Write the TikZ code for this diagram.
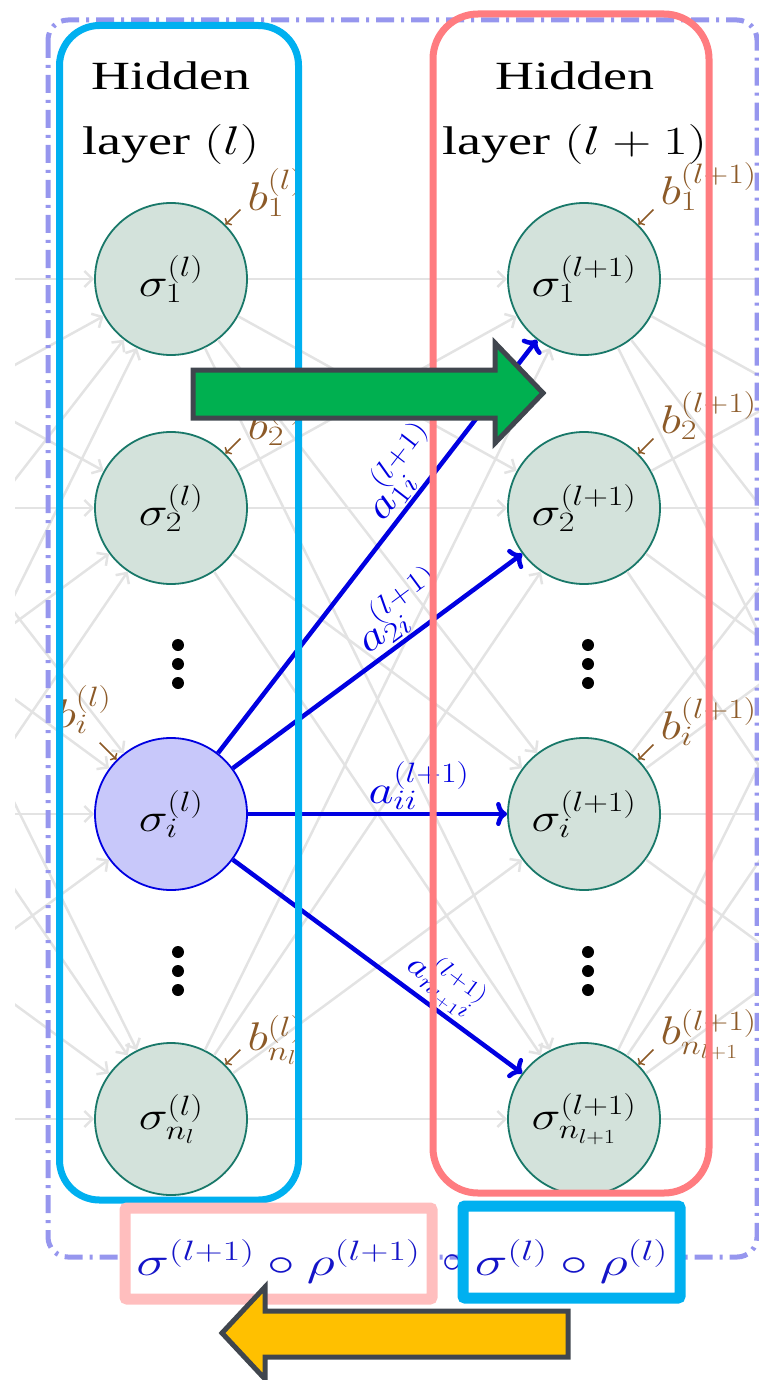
\RequirePackage{fix-cm}
\documentclass[tikz,border=0pt]{standalone}
\usepackage[no-math]{fontspec}
\setmainfont{Liberation Serif}
\usetikzlibrary{arrows.meta,calc}
\DeclareMathSizes{40}{40}{28}{20}
\DeclareMathSizes{32}{32}{23}{16}
\definecolor{framecyan}{RGB}{0,176,240}
\definecolor{framered}{RGB}{255,124,128}
\definecolor{framepink}{RGB}{255,190,190}
\definecolor{outerblue}{RGB}{150,150,238}
\definecolor{nodefill}{RGB}{211,226,219}
\definecolor{nodeline}{RGB}{25,120,105}
\definecolor{actfill}{RGB}{200,200,250}
\definecolor{biasbrown}{RGB}{140,90,40}
\definecolor{wblue}{RGB}{0,0,225}
\definecolor{formblue}{RGB}{20,20,200}
\definecolor{arrgreen}{RGB}{0,176,80}
\definecolor{arrorange}{RGB}{255,192,0}
\definecolor{arredge}{RGB}{64,70,78}
\newcommand{\wtx}[2][1.22]{\scalebox{#1}[1]{#2}}
\begin{document}
\begin{tikzpicture}[x=1pt,y=-1pt,
  neuron/.style={circle,draw=nodeline,fill=nodefill,line width=1.8pt,minimum size=152pt,inner sep=0pt,font=\fontsize{40}{48}\selectfont},
  faint/.style={gray!22,line width=2.5pt,-{Straight Barb[length=8pt,width=16pt]}},
  wire/.style={wblue,line width=4.5pt,-{To[length=11pt,width=24pt]}},
  wlab/.style={text=wblue,inner sep=2pt,font=\fontsize{40}{48}\selectfont},
  bias/.style={text=biasbrown,inner sep=0pt,font=\fontsize{40}{48}\selectfont},
  biasarr/.style={biasbrown,line width=1.5pt,-{To[length=5pt,width=10pt]}},
  frame/.style={line width=7pt,rounded corners=40pt},
  title/.style={align=center,inner sep=0pt,font=\fontsize{40}{65}\selectfont},
  formbox/.style={draw,fill=white,line width=11pt,rounded corners=2pt,inner sep=0pt,text=formblue,font=\fontsize{40}{48}\selectfont},
  blockarr/.style={draw=arredge,line width=5pt,line join=miter}]
\useasboundingbox (0,0) rectangle (759,1380);
\foreach \n/\y in {1/279,2/508,i/814,n/1119}{
  \coordinate (P\n) at (-245,\y);
  \coordinate (F\n) at (999,\y);
}
\foreach \n/\y/\s in {1/279/1,2/508/2,n/1119/{n_l}}{
  \node[neuron] (L\n) at (171,\y) {\wtx{$\sigma_{\s}^{(l)}$}};
}
\node[neuron,draw=wblue,fill=actfill] (Li) at (171,814) {\wtx{$\sigma_i^{(l)}$}};
\foreach \n/\y/\s in {1/279/1,2/508/2,i/814/i,n/1119/{n_{l+1}}}{
  \node[neuron] (R\n) at (584,\y) {\wtx{$\sigma_{\s}^{(l+1)}$}};
}
\begin{scope}
\clip (15,0) rectangle (759,1380);
\foreach \a in {1,2,i,n}{
  \foreach \b in {1,2,i,n}{
    \draw[faint] (P\a) -- (L\b);
    \draw[faint] (L\a) -- (R\b);
    \draw[faint] (R\a) -- (F\b);
  }}
\end{scope}
\foreach \x in {178,588}{\foreach \y in {645,664,683,952,971,990}{\fill (\x,\y) circle (6pt);}}
\foreach \n/\p/\lab in {1/.64/{a_{1i}^{(l+1)}},2/.63/{a_{2i}^{(l+1)}},i/.66/{a_{ii}^{(l+1)}}}{
  \draw[wire] (Li) -- node[wlab,pos=\p,above,sloped]{\wtx{$\lab$}} (R\n);
}
\draw[wire] (Li) -- node[wlab,pos=.68,above,sloped,font=\fontsize{32}{38}\selectfont]{\wtx{$a_{n_{l+1}i}^{(l+1)}$}} (Rn);
\begin{scope}
\clip (59,0) rectangle (298,1380);
\foreach \n/\s in {1/1,2/2,n/{n_l}}{
  \coordinate (cL\n) at ($(L\n.45)+(15,-15)$);
  \draw[biasarr] (cL\n) -- (L\n.45);
  \node[bias,anchor=base west] (bL\n) at ($(L\n.45)+(22,-14)$) {\wtx{$b_{\s}^{(l)}$}};
}
\coordinate (cLi) at ($(Li.135)+(-17,-17)$);
\draw[biasarr] (cLi) -- (Li.135);
\node[bias,anchor=base east] (bLi) at ($(Li.135)+(-5,-32)$) {\wtx{$b_i^{(l)}$}};
\end{scope}
\foreach \n/\s in {1/1,2/2,i/i,n/{n_{l+1}}}{
  \coordinate (cR\n) at ($(R\n.45)+(15,-15)$);
  \draw[biasarr] (cR\n) -- (R\n.45);
  \node[bias,anchor=base west] (bR\n) at ($(R\n.45)+(22,-20)$) {\wtx{$b_{\s}^{(l+1)}$}};
}
\node[title,anchor=north] (tL) at (171,62) {\wtx[1.35]{Hidden}\\\wtx[1.35]{layer $(l)$}};
\node[title,anchor=north] (tR) at (575,62) {\wtx[1.35]{Hidden}\\\wtx[1.35]{layer $(l+1)$}};
\draw[outerblue,line width=5pt,rounded corners=20pt,dash pattern=on 18pt off 7pt on 3pt off 7pt] (48,20) rectangle (757,1257);
\draw[frame,draw=framecyan] (59.5,25.5) rectangle (298.5,1200);
\draw[frame,draw=framered,rounded corners=45pt] (433,14) rectangle (709,1193);
\node[formbox,draw=framepink,minimum width=307pt,minimum height=91pt,text height=50pt,text depth=7pt] (fL) at (278.5,1253.5) {\wtx[1.38]{$\sigma^{(l+1)}\circ\rho^{(l+1)}$}};
\node[text=formblue,inner sep=0pt,font=\fontsize{40}{48}\selectfont] (comp) at (452,1264) {$\circ$};
\node[formbox,draw=framecyan,minimum width=217pt,minimum height=92pt,text height=52pt,text depth=6pt] (fR) at (571.5,1252) {\wtx[1.38]{$\sigma^{(l)}\circ\rho^{(l)}$}};
\draw[blockarr,fill=arrgreen] (193,370) -- (495,370) -- (495,343) -- (543,393) -- (495,443) -- (495,418) -- (193,418) -- cycle;
\draw[blockarr,fill=arrorange] (568,1311) -- (265,1311) -- (265,1287) -- (222,1333) -- (265,1379) -- (265,1357) -- (568,1357) -- cycle;
\end{tikzpicture}
\end{document}
